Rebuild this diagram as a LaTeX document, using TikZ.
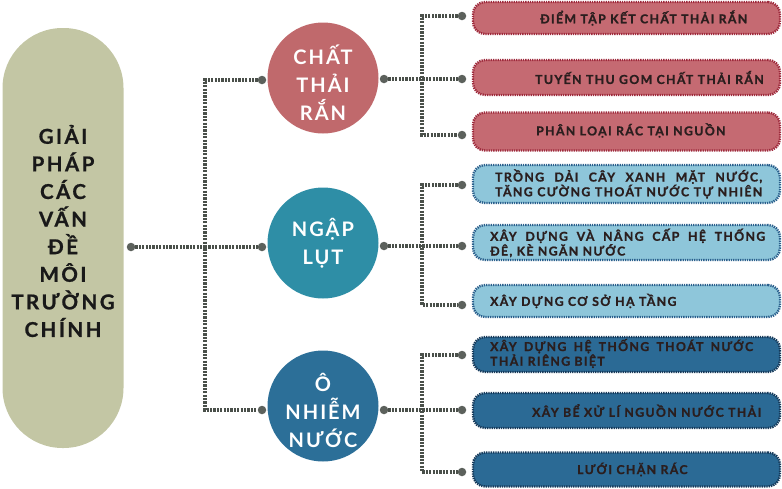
\documentclass[tikz,border=0pt]{standalone}
\usepackage{fontspec}
\setmainfont{Lato}
\newfontfamily\pillfont{Lato}[LetterSpace=12,FakeBold=0.8]
\newfontfamily\circfont{Lato}[LetterSpace=10]
\newfontfamily\boxfont{Lato}[LetterSpace=11,FakeBold=1.2]
\definecolor{pillC}{HTML}{C3C6A4}
\definecolor{cA}{HTML}{C0696C}
\definecolor{cB}{HTML}{2E8EA6}
\definecolor{cC}{HTML}{2C6F98}
\definecolor{pinkF}{HTML}{C56A72}
\definecolor{pinkD}{HTML}{9E2A3C}
\definecolor{lbF}{HTML}{8EC6DA}
\definecolor{lbD}{HTML}{2A5F8C}
\definecolor{dbF}{HTML}{2B6A95}
\definecolor{dbD}{HTML}{173A5A}
\definecolor{lineC}{HTML}{4A504A}
\definecolor{txtC}{HTML}{2A1E1E}
\begin{document}
\begin{tikzpicture}[x=1pt,y=-1pt,
  dotline/.style={draw=lineC, line width=3.4pt, dash pattern=on 2.2pt off 1.2pt},
  enddot/.style={circle, fill=lineC!90, inner sep=0pt, minimum size=8.5pt},
  topic/.style={circle, inner sep=0pt, minimum size=111pt},
  topictext/.style={text=white, align=center, font=\circfont\bfseries\fontsize{20}{28}\selectfont},
  rbox/.style={rounded corners=12pt, line width=2.4pt, dash pattern=on 1.3pt off 1pt, minimum width=307pt, inner sep=0pt},
  btext/.style={anchor=west, inner sep=0pt, text=txtC, align=left, font=\boxfont\bfseries\fontsize{12.3}{13.5}\selectfont}
]
\useasboundingbox (0,0) rectangle (782,488);

% main pill
\node[fill=pillC, rounded corners=60pt, minimum width=121pt, minimum height=420pt, inner sep=0pt] (pill) at (63,238) {};
\node[align=center, text=black!90, font=\pillfont\bfseries\fontsize{20.5}{27.6}\selectfont] (pilltext) at (63,231)
  {GIẢI\\PHÁP\\CÁC\\VẤN\\ĐỀ\\MÔI\\TRƯỜNG\\CHÍNH};

% topic circles
\node[topic, fill=cA] (tA) at (323,78) {};
\node[topictext] (tAt) at (323,83) {CHẤT\\THẢI\\RẮN};
\node[topic, fill=cB] (tB) at (323,243) {};
\node[topictext] (tBt) at (323,243) {NGẬP\\LỤT};
\node[topic, fill=cC] (tC) at (323,406) {};
\node[topictext] (tCt) at (323,410) {Ô\\NHIỄM\\NƯỚC};

% boxes
\node[rbox, fill=pinkF, draw=pinkD, minimum height=32pt] (bA1) at (626.5,18) {};
\node[rbox, fill=pinkF, draw=pinkD, minimum height=35pt] (bA2) at (626.5,77.5) {};
\node[rbox, fill=pinkF, draw=pinkD, minimum height=38pt] (bA3) at (626.5,131.5) {};
\node[rbox, fill=lbF, draw=lbD, minimum height=38pt] (bB1) at (626.5,184) {};
\node[rbox, fill=lbF, draw=lbD, minimum height=35pt] (bB2) at (626.5,242.5) {};
\node[rbox, fill=lbF, draw=lbD, minimum height=32pt] (bB3) at (626.5,301) {};
\node[rbox, fill=dbF, draw=dbD, minimum height=35pt] (bC1) at (626.5,354.5) {};
\node[rbox, fill=dbF, draw=dbD, minimum height=35pt] (bC2) at (626.5,410.5) {};
\node[rbox, fill=dbF, draw=dbD, minimum height=34pt] (bC3) at (626.5,469.5) {};

\node[btext] (xA1) at (540,18) {ĐIỂM TẬP KẾT CHẤT THẢI RẮN};
\node[btext] (xA2) at (535,77.5) {TUYẾN THU GOM CHẤT THẢI RẮN};
\node[btext] (xA3) at (536,130.5) {PHÂN LOẠI RÁC TẠI NGUỒN};
\node[btext] (xB1) at (495,184) {\makebox[267pt][s]{TRỒNG DẢI CÂY XANH MẶT NƯỚC,}\\\makebox[267pt][s]{TĂNG CƯỜNG THOÁT NƯỚC TỰ NHIÊN}};
\node[btext] (xB2) at (490,243) {\makebox[275pt][s]{XÂY DỰNG VÀ NÂNG CẤP HỆ THỐNG}\\ĐÊ, KÈ NGĂN NƯỚC};
\node[btext] (xB3) at (490,301) {XÂY DỰNG CƠ SỞ HẠ TẦNG};
\node[btext] (xC1) at (490,353.5) {\makebox[263pt][s]{XÂY DỰNG HỆ THỐNG THOÁT NƯỚC}\\THẢI RIÊNG BIỆT};
\node[btext] (xC2) at (532,410.5) {XÂY BỂ XỬ LÍ NGUỒN NƯỚC THẢI};
\node[btext] (xC3) at (577,469.5) {LƯỚI CHẶN RÁC};

% connector coordinates
\coordinate (j0) at (205,247);
\coordinate (j0a) at (205,80);
\coordinate (j0c) at (205,410);
\node[enddot] (d0) at (131,247) {};
\node[enddot] (dA) at (262,80) {};
\node[enddot] (dB) at (262,247) {};
\node[enddot] (dC) at (262,410) {};

\draw[dotline] (d0) -- (j0);
\draw[dotline] (dA) -- (j0a) -- (j0c) -- (dC);
\draw[dotline] (j0) -- (dB);

% group A
\node[enddot] (oA) at (384,79) {};
\coordinate (jAt) at (422,16);
\coordinate (jAb) at (422,135);
\node[enddot] (eA1) at (462,16) {};
\node[enddot] (eA2) at (462,79) {};
\node[enddot] (eA3) at (462,135) {};
\draw[dotline] (oA) -- (eA2);
\draw[dotline] (eA1) -- (jAt) -- (jAb) -- (eA3);

% group B
\node[enddot] (oB) at (384,246) {};
\coordinate (jBt) at (422,185);
\coordinate (jBb) at (422,305);
\node[enddot] (eB1) at (462,185) {};
\node[enddot] (eB2) at (462,246) {};
\node[enddot] (eB3) at (462,305) {};
\draw[dotline] (oB) -- (eB2);
\draw[dotline] (eB1) -- (jBt) -- (jBb) -- (eB3);

% group C
\node[enddot] (oC) at (384,410) {};
\coordinate (jCt) at (422,355);
\coordinate (jCb) at (422,472);
\node[enddot] (eC1) at (462,355) {};
\node[enddot] (eC2) at (462,410) {};
\node[enddot] (eC3) at (462,472) {};
\draw[dotline] (oC) -- (eC2);
\draw[dotline] (eC1) -- (jCt) -- (jCb) -- (eC3);
\end{tikzpicture}
\end{document}
